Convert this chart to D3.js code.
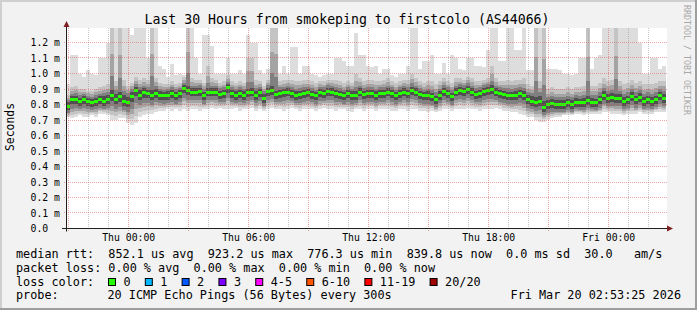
<!DOCTYPE html>
<html><head><meta charset="utf-8">
<script src="https://cdn.jsdelivr.net/npm/d3@7"></script>
<style>
html,body{margin:0;padding:0;background:#f2f2f2;}
svg{display:block;}
text{font-family:"DejaVu Sans Mono",monospace;fill:#000;}
</style></head><body>
<svg id="c" width="697" height="310"></svg>
<script>
const title = "Last 30 Hours from smokeping to firstcolo (AS44066)";
const yTickValues = [0,0.1,0.2,0.3,0.4,0.5,0.6,0.7,0.8,0.9,1.0,1.1,1.2];
const yTickLabels = ["0.0\u00a0\u00a0","0.1 m","0.2 m","0.3 m","0.4 m","0.5 m","0.6 m","0.7 m","0.8 m","0.9 m","1.0 m","1.1 m","1.2 m"];
const xTickTimes = ["2026-03-19T00:00:00Z","2026-03-19T06:00:00Z","2026-03-19T12:00:00Z","2026-03-19T18:00:00Z","2026-03-20T00:00:00Z"];
const xTickLabels = ["Thu 00:00","Thu 06:00","Thu 12:00","Thu 18:00","Fri 00:00"];
const endTimeISO = "2026-03-20T02:53:25Z";
const hours = 30;
const stepMinutes = 12;

// median rtt (ms)
const med = [
0.79,0.83,0.83,0.82,0.83,0.82,0.81,0.82,0.83,0.82,
0.83,0.86,0.83,0.85,0.82,0.81,0.85,0.89,0.86,0.88,
0.87,0.855,0.87,0.86,0.855,0.86,0.87,0.855,0.87,0.905,
0.89,0.88,0.88,0.885,0.855,0.88,0.88,0.88,0.865,0.87,
0.91,0.87,0.86,0.87,0.86,0.875,0.88,0.86,0.875,0.84,
0.885,0.89,0.865,0.87,0.875,0.88,0.87,0.86,0.865,0.87,
0.875,0.865,0.855,0.875,0.87,0.885,0.88,0.87,0.865,0.855,
0.87,0.86,0.86,0.88,0.865,0.87,0.87,0.86,0.87,0.87,
0.88,0.87,0.855,0.87,0.88,0.87,0.89,0.88,0.865,0.855,
0.86,0.85,0.83,0.86,0.885,0.87,0.85,0.88,0.89,0.885,
0.895,0.88,0.865,0.87,0.885,0.89,0.895,0.88,0.87,0.865,
0.855,0.855,0.86,0.87,0.86,0.83,0.82,0.81,0.82,0.78,
0.80,0.805,0.80,0.80,0.80,0.81,0.80,0.815,0.81,0.815,
0.825,0.815,0.81,0.83,0.86,0.84,0.845,0.84,0.84,0.82,
0.83,0.85,0.83,0.845,0.82,0.83,0.82,0.83,0.855,0.84];

// highest ping (top of light smoke)
const maxv = [
0.93,1.12,1.12,1.0,0.98,1.02,1.0,0.99,1.1,1.1,
1.2,1.31,1.31,1.31,1.31,1.31,1.25,1.31,1.31,1.31,
1.1,1.31,1.31,1.05,1.03,0.98,1.06,0.99,1.0,0.99,
1.31,1.31,1.1,1.0,1.25,1.25,1.18,1.0,1.0,1.0,
1.1,1.0,1.0,1.02,1.0,1.25,1.2,1.2,1.02,1.0,
1.03,1.31,1.31,1.0,1.05,1.0,1.17,1.17,1.0,1.05,
1.05,1.0,0.99,0.98,0.99,1.0,1.0,1.1,1.1,1.08,
1.05,1.05,1.26,1.12,1.12,1.05,1.04,1.05,1.0,1.03,
1.03,0.99,0.98,1.0,1.0,1.05,1.31,1.31,1.03,1.08,
1.08,1.12,1.0,1.0,1.07,1.0,1.12,1.1,1.03,1.02,
1.1,1.1,1.05,1.05,1.04,1.15,1.31,1.31,1.08,1.08,
1.31,1.31,1.15,1.15,1.31,1.02,1.02,1.31,1.31,1.31,
1.03,1.03,1.03,1.02,1.0,1.0,0.99,1.0,1.1,1.1,
1.31,1.03,1.1,1.12,1.31,1.31,1.31,1.31,1.31,1.31,
1.31,1.31,1.31,1.2,1.0,1.0,1.1,1.1,1.03,1.05];

// top of medium-grey smoke
const upper = [
0.86,0.91,0.92,0.90,0.90,0.89,0.89,0.90,0.91,0.92,
0.93,1.31,0.95,1.31,0.96,0.92,0.94,0.98,0.96,0.97,
0.96,1.31,0.97,0.94,0.93,0.93,0.95,0.93,0.94,0.98,
1.31,0.97,0.96,0.96,0.94,1.05,0.97,0.96,0.94,0.95,
0.99,0.95,0.94,0.95,0.94,1.1,1.1,0.96,0.95,0.92,
0.96,1.31,1.31,0.95,0.96,0.96,0.96,0.95,0.95,0.96,
0.96,0.95,0.94,0.95,0.95,0.96,0.96,0.96,0.95,0.94,
0.95,0.94,1.0,0.97,0.95,0.96,0.96,0.95,0.95,0.96,
0.97,0.95,0.94,0.95,0.96,0.96,1.0,0.97,0.95,0.94,
0.95,0.95,0.93,0.95,0.97,0.95,0.94,0.97,0.97,0.96,
0.98,0.97,0.95,0.95,0.96,0.97,1.05,0.97,0.95,0.95,
0.96,0.95,0.96,0.96,0.97,0.93,0.92,1.31,0.95,1.31,
0.90,0.91,0.90,0.90,0.90,0.91,0.90,0.91,0.91,0.92,
1.31,0.92,0.92,0.94,0.97,0.95,0.96,1.31,0.95,0.93,
0.94,0.96,0.94,0.95,0.93,0.93,0.93,0.94,0.95,0.95];

// top of dark core
const hi = [
0.82,0.86,0.86,0.85,0.86,0.85,0.84,0.85,0.86,0.86,
0.87,0.90,0.88,0.89,0.87,0.86,0.89,0.92,0.90,0.91,
0.90,0.90,0.91,0.89,0.885,0.89,0.90,0.89,0.90,0.93,
0.93,0.91,0.91,0.915,0.89,0.91,0.91,0.91,0.895,0.90,
0.935,0.90,0.89,0.90,0.89,0.91,0.91,0.89,0.905,0.875,
0.915,0.93,0.895,0.90,0.905,0.91,0.90,0.89,0.895,0.90,
0.905,0.895,0.885,0.905,0.90,0.915,0.91,0.90,0.895,0.885,
0.90,0.89,0.895,0.91,0.895,0.90,0.90,0.89,0.90,0.90,
0.91,0.90,0.885,0.90,0.91,0.90,0.92,0.91,0.895,0.885,
0.89,0.88,0.865,0.89,0.915,0.90,0.88,0.91,0.92,0.915,
0.925,0.91,0.895,0.90,0.915,0.92,0.93,0.91,0.90,0.895,
0.89,0.89,0.89,0.90,0.89,0.87,0.86,0.86,0.86,0.83,
0.835,0.84,0.835,0.835,0.835,0.845,0.835,0.85,0.845,0.85,
0.86,0.85,0.845,0.865,0.89,0.875,0.88,0.875,0.875,0.855,
0.865,0.885,0.865,0.88,0.855,0.865,0.855,0.865,0.885,0.875];

// bottom of dark core
const lo = [
0.75,0.79,0.79,0.78,0.79,0.78,0.77,0.78,0.79,0.78,
0.79,0.81,0.79,0.80,0.78,0.77,0.80,0.84,0.82,0.83,
0.83,0.815,0.83,0.82,0.815,0.82,0.83,0.815,0.83,0.86,
0.85,0.84,0.84,0.845,0.815,0.84,0.84,0.84,0.825,0.83,
0.86,0.83,0.82,0.83,0.82,0.835,0.84,0.82,0.835,0.80,
0.845,0.85,0.825,0.83,0.835,0.84,0.83,0.82,0.825,0.83,
0.835,0.825,0.815,0.835,0.83,0.845,0.84,0.83,0.825,0.815,
0.83,0.82,0.82,0.84,0.825,0.83,0.83,0.82,0.83,0.83,
0.84,0.83,0.815,0.83,0.84,0.83,0.85,0.84,0.825,0.815,
0.82,0.81,0.79,0.82,0.845,0.83,0.81,0.84,0.85,0.845,
0.855,0.84,0.825,0.83,0.845,0.85,0.855,0.84,0.83,0.825,
0.815,0.815,0.82,0.83,0.82,0.79,0.78,0.77,0.78,0.74,
0.76,0.765,0.76,0.76,0.76,0.77,0.76,0.775,0.77,0.775,
0.785,0.775,0.77,0.79,0.82,0.80,0.805,0.80,0.80,0.78,
0.79,0.81,0.79,0.805,0.78,0.79,0.78,0.79,0.815,0.80];

// lowest ping (bottom of light smoke)
const minv = [
0.72,0.71,0.72,0.73,0.72,0.72,0.73,0.72,0.74,0.74,
0.73,0.70,0.70,0.71,0.71,0.68,0.67,0.68,0.72,0.73,
0.74,0.74,0.75,0.76,0.76,0.77,0.76,0.77,0.76,0.77,
0.76,0.77,0.77,0.76,0.77,0.77,0.78,0.77,0.78,0.77,
0.77,0.77,0.78,0.76,0.77,0.77,0.78,0.76,0.77,0.76,
0.77,0.78,0.77,0.77,0.76,0.77,0.78,0.77,0.76,0.77,
0.77,0.77,0.76,0.77,0.78,0.77,0.77,0.76,0.77,0.77,
0.76,0.75,0.77,0.77,0.76,0.77,0.77,0.76,0.77,0.77,
0.77,0.76,0.76,0.77,0.77,0.76,0.77,0.77,0.76,0.76,
0.75,0.76,0.75,0.76,0.77,0.77,0.76,0.77,0.77,0.77,
0.78,0.77,0.77,0.76,0.77,0.77,0.77,0.78,0.77,0.76,
0.76,0.75,0.75,0.74,0.73,0.72,0.72,0.70,0.69,0.69,
0.70,0.71,0.72,0.72,0.73,0.73,0.73,0.74,0.74,0.73,
0.74,0.74,0.74,0.74,0.75,0.75,0.74,0.74,0.74,0.73,
0.74,0.74,0.74,0.75,0.74,0.74,0.74,0.75,0.75,0.75];

const legendRows = [
  "median rtt:  852.1 us avg  923.2 us max  776.3 us min  839.8 us now  0.0 ms sd  30.0   am/s",
  "packet loss: 0.00 % avg  0.00 % max  0.00 % min  0.00 % now"
];
const lossLabels = ["0","1","2","3","4-5","6-10","11-19","20/20"];
const lossColors = ["#26ff00","#00b8ff","#0059ff","#7e00ff","#ff00ff","#ff5500","#ff0000","#a00000"];
const probeText = "20 ICMP Echo Pings (56 Bytes) every 300s";
const dateText = "Fri Mar 20 02:53:25 2026";
const watermark = "RRDTOOL / TOBI OETIKER";

const W = 697, H = 310;
const L = 66, R = 666, T = 28, B = 228.5;
const svg = d3.select("#c");

// background + shaded border
svg.append("rect").attr("width",W).attr("height",H).attr("fill","#f2f2f2");
svg.append("rect").attr("x",0).attr("y",0).attr("width",W).attr("height",2).attr("fill","#cfcfcf");
svg.append("rect").attr("x",0).attr("y",0).attr("width",2).attr("height",H).attr("fill","#cfcfcf");
svg.append("rect").attr("x",0).attr("y",H-2).attr("width",W).attr("height",2).attr("fill","#9e9e9e");
svg.append("rect").attr("x",W-2).attr("y",0).attr("width",2).attr("height",H).attr("fill","#9e9e9e");

const end = new Date(endTimeISO);
const start = new Date(end.getTime() - hours*3600e3);
const x = d3.scaleTime().domain([start,end]).range([L,R]);
const y = d3.scaleLinear().domain([0,1.2]).range([B,42.5]);

svg.append("rect").attr("x",L).attr("y",T).attr("width",R-L+1).attr("height",B-T).attr("fill","#fff");

svg.append("clipPath").attr("id","cp").append("rect").attr("x",L).attr("y",T).attr("width",R-L+1).attr("height",B-T);

const N = med.length;
const step = stepMinutes*60e3;
const pts = d3.range(N).map(i=>({t:new Date(start.getTime()+i*step), i}));
pts.push({t:end, i:N-1});

const smoke = svg.append("g").attr("clip-path","url(#cp)");
function band(low, high, color){
  smoke.append("path").datum(pts)
    .attr("fill",color).attr("shape-rendering","crispEdges")
    .attr("d", d3.area().curve(d3.curveStepAfter)
      .x(d=>x(d.t)).y0(d=>y(low(d.i))).y1(d=>y(high(d.i))));
}
band(i=>minv[i], i=>maxv[i], "#dddddd");
band(i=>minv[i]+(lo[i]-minv[i])*0.3, i=>upper[i], "#c4c4c4");
band(i=>minv[i]+(lo[i]-minv[i])*0.55, i=>upper[i]+(hi[i]-upper[i])*0.45, "#a4a4a4");
band(i=>minv[i]+(lo[i]-minv[i])*0.8, i=>upper[i]+(hi[i]-upper[i])*0.8, "#808080");
band(i=>lo[i]+(med[i]-lo[i])*0.3, i=>hi[i]-(hi[i]-med[i])*0.2, "#505050");

// median
smoke.selectAll("rect.med").data(d3.range(N)).join("rect")
  .attr("x", i=>x(pts[i].t)).attr("width", i=>x(pts[i+1].t)-x(pts[i].t))
  .attr("y", i=>y(med[i])-1.5).attr("height",3)
  .attr("fill", lossColors[0]).attr("shape-rendering","crispEdges");

// grid (drawn over data)
const grid = svg.append("g");
const hoursList = d3.utcHour.range(start, end);
hoursList.forEach(h=>{
  const px = Math.floor(x(h))+0.5;
  const major = h.getUTCHours()%3===0;
  grid.append("line").attr("x1",px).attr("x2",px).attr("y1",T).attr("y2", major?B+3:B)
    .attr("stroke", major?"rgba(222,79,79,0.5)":"rgba(143,143,143,0.5)")
    .attr("stroke-dasharray","1,1");
});
yTickValues.forEach(v=>{
  if(v===0) return;
  const py = Math.floor(y(v))+0.5;
  grid.append("line").attr("x1",L-2).attr("x2",R+1).attr("y1",py).attr("y2",py)
    .attr("stroke","rgba(222,79,79,0.5)").attr("stroke-dasharray","1,1");
});

// axes via d3
const gy = svg.append("g").attr("transform",`translate(${L+0.5},0)`)
  .call(d3.axisLeft(y).tickValues(yTickValues).tickFormat((d,i)=>yTickLabels[i]).tickSize(0).tickPadding(6.5));
gy.select(".domain").remove();
gy.selectAll("text").attr("font-family","DejaVu Sans Mono").attr("font-size",9.8).attr("fill","#000");

const gx = svg.append("g").attr("transform",`translate(0,${B})`)
  .call(d3.axisBottom(x).tickValues(xTickTimes.map(s=>new Date(s))).tickFormat((d,i)=>xTickLabels[i]).tickSize(0).tickPadding(5.8));
gx.select(".domain").remove();
gx.selectAll("text").attr("font-family","DejaVu Sans Mono").attr("font-size",9.8).attr("fill","#000");

// axis lines + arrows
svg.append("line").attr("x1",L+0.5).attr("x2",L+0.5).attr("y1",B+3).attr("y2",25).attr("stroke","#1f1f1f");
svg.append("line").attr("x1",L-4).attr("x2",R+2).attr("y1",B).attr("y2",B).attr("stroke","#1f1f1f");
svg.append("path").attr("d",`M${L+0.5},21 L${L+3.5},27 L${L-2.5},27 Z`).attr("fill","#7f1f1f");
svg.append("path").attr("d",`M${R+7},${B} L${R+1},${B-3} L${R+1},${B+3} Z`).attr("fill","#7f1f1f");

// title
svg.append("text").attr("x",347).attr("y",23.5).attr("text-anchor","middle")
  .attr("font-size",13.2).text(title);
// y axis title
svg.append("text").attr("transform","translate(14,127) rotate(-90)").attr("text-anchor","middle")
  .attr("font-size",11.4).text("Seconds");
// watermark
svg.append("text").attr("transform","translate(684,5) rotate(90)").attr("font-size",8.3)
  .style("fill","#a8a8a8").text(watermark);

// legend
const lf = 11.8;
const rowY = [258.3, 271.8, 285.5, 299.2];
legendRows.forEach((s,k)=>{
  svg.append("text").attr("x",16).attr("y",rowY[k]).attr("font-size",lf)
    .attr("xml:space","preserve").style("white-space","pre").text(s);
});
svg.append("text").attr("x",16).attr("y",rowY[2]).attr("font-size",lf).text("loss color:");
let sx = 108.5;
lossLabels.forEach((lab,k)=>{
  svg.append("rect").attr("x",sx).attr("y",278.5).attr("width",7).attr("height",7)
    .attr("fill",lossColors[k]).attr("stroke","#000").attr("stroke-width",1);
  const t = svg.append("text").attr("x",sx+15).attr("y",rowY[2]).attr("font-size",lf).text(lab);
  sx = sx + 15 + t.node().getComputedTextLength() + 14.7;
});
svg.append("text").attr("x",16).attr("y",rowY[3]).attr("font-size",lf).text("probe:");
svg.append("text").attr("x",107.5).attr("y",rowY[3]).attr("font-size",lf).text(probeText);
svg.append("text").attr("x",681).attr("y",rowY[3]).attr("font-size",lf).attr("text-anchor","end").text(dateText);
</script>
</body></html>
